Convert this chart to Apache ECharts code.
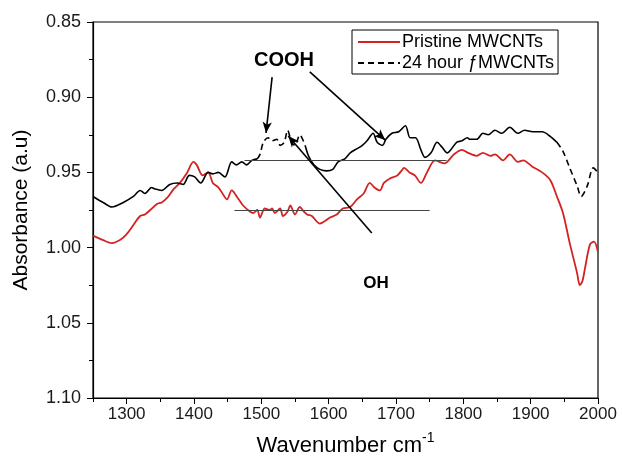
<!DOCTYPE html>
<html><head><meta charset="utf-8">
<script src="https://cdn.jsdelivr.net/npm/echarts@6/dist/echarts.min.js"></script>
<style>html,body{margin:0;padding:0;background:#fff}#c{width:622px;height:466px}</style>
</head><body><div id="c"></div>
<script>
const redWn  = [1250,1265,1278,1290,1300,1310,1320,1327,1335,1345,1352,1360,1370,1379,1390,1399,1404,1413,1421,1428,1436,1441,1449,1456,1465,1473,1483,1488,1494,1498,1505,1512,1516,1520,1528,1532,1539,1543,1550,1557,1563,1568,1575,1587,1602,1612,1621,1632,1642,1652,1661,1668,1676,1682,1691,1702,1708,1712,1720,1728,1737,1746,1758,1772,1786,1798,1807,1820,1829,1840,1847,1859,1869,1881,1889,1902,1917,1929,1939,1948,1958,1969,1973,1977,1981,1988,1994,2000];
const redVal = [0.992,0.995,0.997,0.995,0.991,0.985,0.979,0.978,0.975,0.971,0.970,0.967,0.961,0.957,0.950,0.943,0.945,0.952,0.950,0.957,0.960,0.963,0.968,0.962,0.967,0.972,0.976,0.977,0.975,0.980,0.974,0.975,0.974,0.977,0.974,0.979,0.976,0.972,0.978,0.973,0.976,0.978,0.979,0.984,0.980,0.978,0.974,0.973,0.968,0.964,0.957,0.960,0.962,0.957,0.954,0.952,0.949,0.947,0.950,0.952,0.957,0.950,0.942,0.944,0.938,0.935,0.937,0.939,0.937,0.939,0.938,0.942,0.938,0.943,0.942,0.946,0.950,0.955,0.966,0.977,0.997,1.017,1.025,1.022,1.013,0.998,0.996,1.003];

const blackWn  = [1250,1265,1278,1295,1310,1320,1327,1337,1342,1352,1364,1375,1384,1393,1401,1410,1421,1428,1436,1446,1456,1463,1471,1478,1486,1494,1498,1503,1510,1516,1523,1528,1534,1539,1545,1550,1557,1565,1570,1578,1587,1597,1606,1614,1624,1632,1643,1650,1657,1666,1672,1680,1685,1694,1704,1714,1721,1729,1737,1743,1752,1761,1768,1776,1790,1798,1806,1810,1820,1829,1837,1847,1857,1869,1881,1891,1903,1917,1929,1939,1948,1958,1969,1975,1984,1993,2000];
const blackVal = [0.966,0.970,0.973,0.970,0.966,0.962,0.964,0.960,0.961,0.962,0.958,0.957,0.958,0.952,0.953,0.957,0.950,0.951,0.950,0.953,0.943,0.945,0.943,0.945,0.942,0.941,0.938,0.930,0.927,0.929,0.928,0.932,0.930,0.922,0.930,0.932,0.925,0.932,0.939,0.945,0.948,0.949,0.948,0.943,0.941,0.937,0.934,0.932,0.929,0.924,0.930,0.932,0.928,0.924,0.923,0.919,0.927,0.927,0.935,0.940,0.937,0.930,0.933,0.937,0.930,0.929,0.927,0.928,0.928,0.924,0.925,0.922,0.924,0.920,0.924,0.922,0.923,0.923,0.926,0.930,0.936,0.947,0.959,0.966,0.959,0.947,0.950];

const dashedRanges = [[1494,1565],[1939,2000]];

const xTickLabels = [1300,1400,1500,1600,1700,1800,1900,2000];
const xMinorTicks = [1250,1350,1450,1550,1650,1750,1850,1950];
const seriesNames = ['Pristine MWCNTs','24 hour \u0192MWCNTs'];

const baseLines = [[1475,1775,0.942],[1460,1750,0.975]];
const arrows = [[1516,0.8866,1507,0.9238],[1572,0.8832,1684,0.9285],[1664,0.9903,1540,0.9258]];

const inDash = w => dashedRanges.some(r => w >= r[0] && w <= r[1]);
const inDashStrict = w => dashedRanges.some(r => w > r[0] && w < r[1]);
const redData = redWn.map((w,i)=>[w,redVal[i]]);
const blackSolid = blackWn.map((w,i)=> inDashStrict(w) ? [w,null] : [w,blackVal[i]]);
const blackDash = blackWn.map((w,i)=> inDash(w) ? [w,blackVal[i]] : [w,null]);

const chart = echarts.init(document.getElementById('c'), null, {renderer:'canvas'});
const FONT = 'Liberation Sans, Arial, sans-serif';
const mlData = [];
baseLines.forEach(b => mlData.push([{coord:[b[0],b[2]], symbol:'none', lineStyle:{color:'#444',width:1,type:'solid'}},{coord:[b[1],b[2]], symbol:'none'}]));
arrows.forEach(a => mlData.push([{coord:[a[0],a[1]], symbol:'none', lineStyle:{color:'#000',width:1.6,type:'solid'}},{coord:[a[2],a[3]], symbol:'arrow', symbolSize:[7,11]}]));

chart.setOption({
  animation:false,
  backgroundColor:'#fff',
  grid:{left:93,right:24,top:22,bottom:68,show:true,borderColor:'#000',borderWidth:1.2},
  legend:{
    show:true, orient:'vertical', left:352, top:30, itemGap:3, itemWidth:42, itemHeight:12,
    borderColor:'#000', borderWidth:1, borderRadius:0, padding:[3,4,2,5],
    itemStyle:{color:'rgba(0,0,0,0)',borderWidth:0,opacity:0},
    textStyle:{fontFamily:FONT,fontSize:18,color:'#000',padding:[0,0,0,-3]},
    data:[seriesNames[0],seriesNames[1]]
  },
  xAxis:[{
    type:'value', min:1250, max:2000, position:'bottom',
    axisLine:{show:true,onZero:false,lineStyle:{color:'#000',width:1.2}},
    axisTick:{show:true,length:6,customValues:xTickLabels,lineStyle:{color:'#000'}},
    axisLabel:{customValues:xTickLabels,formatter:v=>String(v),fontFamily:FONT,fontSize:17,color:'#1a1a1a',margin:8},
    splitLine:{show:false},
    name:'{a|Wavenumber cm}{s|-1}', nameLocation:'middle', nameGap:33,
    nameTextStyle:{rich:{a:{fontFamily:FONT,fontSize:22,color:'#000'},s:{fontFamily:FONT,fontSize:14,color:'#000',padding:[0,0,16,0]}}}
  },{
    type:'value', min:1250, max:2000, position:'bottom', gridIndex:0,
    axisLine:{show:false},
    axisTick:{show:true,length:4,customValues:xMinorTicks,lineStyle:{color:'#000'}},
    axisLabel:{show:false}, splitLine:{show:false}
  }],
  yAxis:{
    type:'value', min:0.85, max:1.10, interval:0.05, inverse:true,
    axisLine:{show:true,lineStyle:{color:'#000',width:1.2}},
    axisTick:{show:true,length:6,lineStyle:{color:'#000'}},
    minorTick:{show:true,splitNumber:2,length:4,lineStyle:{color:'#000'}},
    axisLabel:{formatter:v=>v.toFixed(2),fontFamily:FONT,fontSize:18,color:'#1a1a1a',margin:12},
    splitLine:{show:false},
    name:'Absorbance (a.u)', nameLocation:'middle', nameGap:61,
    nameTextStyle:{fontFamily:FONT,fontSize:21,color:'#000'}
  },
  series:[
    {name:seriesNames[0],type:'line',data:redData,showSymbol:false,symbol:'none',smooth:0.3,
     lineStyle:{color:'#d42222',width:1.8},itemStyle:{color:'#d42222'},z:3},
    {name:'blackSolidPart',type:'line',data:blackSolid,showSymbol:false,symbol:'none',smooth:0.3,connectNulls:false,
     lineStyle:{color:'#000',width:1.6},itemStyle:{color:'#000'},z:3},
    {name:seriesNames[1],type:'line',data:blackDash,showSymbol:false,symbol:'none',smooth:0.3,connectNulls:false,
     lineStyle:{color:'#000',width:1.6,type:[6,4]},itemStyle:{color:'#000'},z:3},
    {name:'notes',type:'line',data:[],silent:true,symbol:'none',
     markLine:{silent:true,animation:false,label:{show:false},symbol:['none','arrow'],data:mlData}}
  ],
  graphic:[
    {type:'text',x:284,y:60,style:{text:'COOH',fontFamily:FONT,fontSize:20,fontWeight:'bold',fill:'#000',align:'center',verticalAlign:'middle'}},
    {type:'text',x:376,y:283,style:{text:'OH',fontFamily:FONT,fontSize:17,fontWeight:'bold',fill:'#000',align:'center',verticalAlign:'middle'}}
  ]
});
</script></body></html>
